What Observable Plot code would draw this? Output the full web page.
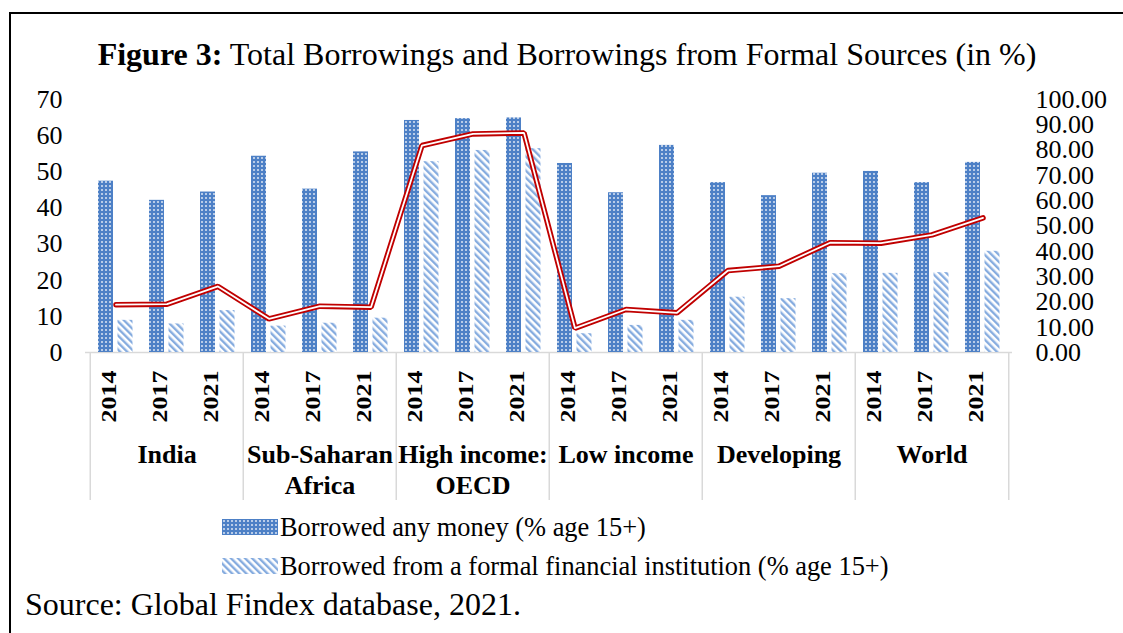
<!DOCTYPE html>
<html><head><meta charset="utf-8">
<script src="https://cdn.jsdelivr.net/npm/d3@7"></script>
<script src="https://cdn.jsdelivr.net/npm/@observablehq/plot@0.6"></script>
<style>
body{margin:0;width:1123px;height:633px;overflow:hidden;background:#fff;font-family:"Liberation Serif","Times New Roman",serif;position:relative;color:#000}
#frame{position:absolute;left:9px;top:12px;width:1200px;height:700px;border-left:2px solid #000;border-top:2px solid #000}
#title{position:absolute;left:11px;width:1112px;top:38px;text-align:center;font-size:32px;line-height:32px;white-space:nowrap;z-index:2}
#chart{position:absolute;left:0;top:0}
.leg{position:absolute;left:222px;font-size:26.4px;line-height:26px;white-space:nowrap;display:flex;align-items:center}
.leg svg{margin-right:2px}
#source{position:absolute;left:25px;top:588px;font-size:32px;line-height:32px;white-space:nowrap}
</style></head>
<body>
<svg width="0" height="0" style="position:absolute">
  <defs>
    <pattern id="dots" width="4" height="4" patternUnits="userSpaceOnUse">
      <rect width="4" height="4" fill="#4d80c6"/>
      <circle cx="2" cy="2" r="1" fill="#fff" fill-opacity="0.8"/>
    </pattern>
    <pattern id="stripes" width="5" height="5" patternUnits="userSpaceOnUse" patternTransform="rotate(-45)">
      <rect width="5" height="5" fill="#fff"/>
      <rect width="2.4" height="5" fill="#86acdf"/>
    </pattern>
  </defs>
</svg>
<div id="frame"></div>
<div id="title"><b>Figure 3:</b> Total Borrowings and Borrowings from Formal Sources (in %)</div>
<div id="chart"></div>
<div class="leg" style="top:514px"><svg width="56" height="16"><rect width="56" height="16" fill="url(#dots)"/></svg><span id="l1"></span></div>
<div class="leg" style="top:553px"><svg width="56" height="16"><rect width="56" height="16" fill="url(#stripes)"/></svg><span id="l2"></span></div>
<div id="source">Source: Global Findex database, 2021.</div>
<script>
// ---- data ----
const groups = ["India", "Sub-Saharan Africa", "High income: OECD", "Low income", "Developing", "World"];
const groupLine1 = ["India", "Sub-Saharan", "High income:", "Low income", "Developing", "World"];
const groupLine2 = ["", "Africa", "OECD", "", "", ""];
const years = ["2014", "2017", "2021"];
const borrowedAny = [47.4, 42.1, 44.4, 54.3, 45.2, 55.5, 64.2, 64.7, 64.9, 52.3, 44.2, 57.3, 47.0, 43.4, 49.6, 50.1, 47.0, 52.6];
const borrowedFormal = [8.9, 7.9, 11.6, 7.3, 8.1, 9.5, 52.8, 55.9, 56.4, 5.2, 7.5, 8.9, 15.3, 14.9, 21.8, 21.9, 22.1, 28.0];
const formalShare = [18.9, 19.1, 26.1, 13.3, 18.3, 17.9, 81.8, 86.4, 86.8, 9.6, 17.0, 15.7, 32.4, 34.1, 43.4, 43.2, 46.5, 53.2];
const leftTicks = [0, 10, 20, 30, 40, 50, 60, 70];
const rightTicks = [0, 10, 20, 30, 40, 50, 60, 70, 80, 90, 100];
const seriesNames = ["Borrowed any money (% age 15+)", "Borrowed from a formal financial institution (% age 15+)"];

document.getElementById("l1").textContent = seriesNames[0];
document.getElementById("l2").textContent = seriesNames[1];

// ---- table ----
const rows = [];
groups.forEach((g, gi) => years.forEach((y, yi) => {
  const i = gi * years.length + yi;
  rows.push({key: g + "|" + y, group: g, year: y, any: borrowedAny[i], formal: borrowedFormal[i], share: formalShare[i]});
}));
const groupRows = groups.map((g, gi) => ({group: g, mid: g + "|" + years[1], first: g + "|" + years[0], line1: groupLine1[gi], line2: groupLine2[gi]}));

const W = 1123, H = 510;
const mL = 85, mR = 111, mT = 99, mB = 158;
const bw = (W - mL - mR) / rows.length;
const K = 70 / 100; // right axis (0–100) mapped onto left axis (0–70)
const below = 148 / ((H - mT - mB) / 70); // category box depth in y units

const chart = Plot.plot({
  width: W, height: H,
  marginLeft: mL, marginRight: mR, marginTop: mT, marginBottom: mB,
  style: {fontFamily: "Liberation Serif, Times New Roman, serif", fontSize: "26px", color: "#000", overflow: "visible", background: "transparent"},
  x: {type: "band", domain: rows.map(d => d.key), padding: 0, axis: null},
  y: {domain: [0, 70]},
  marks: [
    Plot.ruleY([0], {stroke: "#d9d9d9", strokeWidth: 1.5}),
    Plot.ruleX(groupRows, {x: "first", dx: -bw / 2, y1: 0, y2: -below, stroke: "#d9d9d9", strokeWidth: 1.5}),
    Plot.ruleX([rows[rows.length - 1]], {x: "key", dx: bw / 2, y1: 0, y2: -below, stroke: "#d9d9d9", strokeWidth: 1.5}),
    Plot.barY(rows, {x: "key", y: "any", fill: "url(#dots)", insetLeft: 8, insetRight: 28}),
    Plot.barY(rows, {x: "key", y: "formal", fill: "url(#stripes)", insetLeft: 27.5, insetRight: 8.5}),
    Plot.line(rows, {x: "key", y: d => d.share * K, stroke: "#c00000", strokeWidth: 5.5, strokeLinecap: "round", strokeLinejoin: "miter"}),
    Plot.line(rows, {x: "key", y: d => d.share * K, stroke: "#fff", strokeWidth: 1.8, strokeLinecap: "round", strokeLinejoin: "miter"}),
    Plot.axisY({anchor: "left", ticks: leftTicks, tickSize: 0, tickPadding: 23, label: null, fontSize: 26}),
    Plot.axisY({anchor: "right", ticks: rightTicks.map(v => v * K), tickFormat: d => (d / K).toFixed(2), tickSize: 0, tickPadding: 23, label: null, fontSize: 26}),
    Plot.text(rows, {x: "key", text: "year", frameAnchor: "bottom", dy: 44, rotate: -90, fontSize: 26, fontWeight: "bold", className: "yr"}),
    Plot.text(groupRows, {x: "mid", text: "line1", frameAnchor: "bottom", dy: 110, fontSize: 26, fontWeight: "bold"}),
    Plot.text(groupRows, {x: "mid", text: "line2", frameAnchor: "bottom", dy: 141, fontSize: 26, fontWeight: "bold"})
  ]
});
// year labels in the reference are narrower across their glyph height
d3.select(chart).selectAll("g.yr text").each(function() {
  const t = this.getAttribute("transform") || "";
  this.setAttribute("transform", t + " scale(1,0.8)");
});
document.getElementById("chart").appendChild(chart);
</script>
</body></html>
